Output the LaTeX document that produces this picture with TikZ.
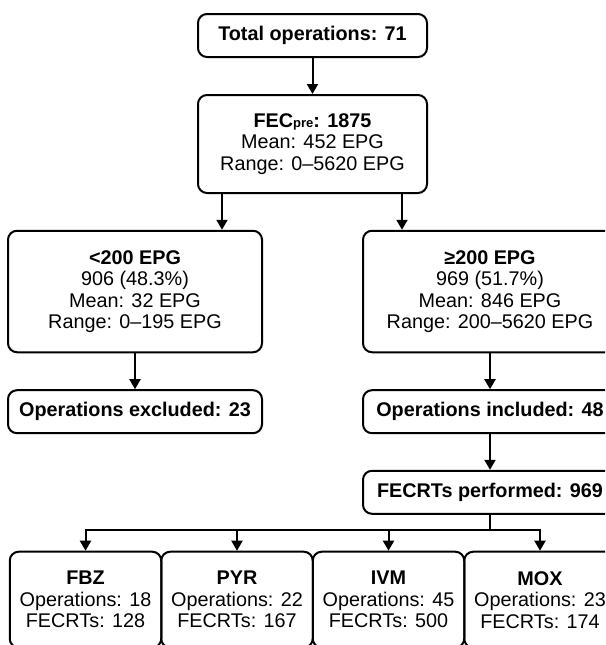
\documentclass[tikz,border=0pt]{standalone}
\usepackage{fontspec}
\setmainfont{Liberation Sans}
\usetikzlibrary{arrows.meta}
\begin{document}
\begin{tikzpicture}[x=1pt,y=-1pt,
  box/.style={draw=black, line width=2pt, rounded corners=9pt, inner sep=0pt,
    align=center, font=\fontsize{19.8}{21.5}\selectfont, text=black},
  arr/.style={line width=2pt, -{Triangle[length=10pt,width=11pt]}},
  ln/.style={line width=2pt, line cap=rect}]
\useasboundingbox (0,0) rectangle (605,645);
\clip (0,0) rectangle (605,645);
\fill[white] (0,0) rectangle (605,645);

\node[box, minimum width=229pt, minimum height=43pt] (tot) at (312.5,35.5) {\bfseries Total operations: 71};
\node[box, minimum width=229pt, minimum height=98pt] (fec) at (312.5,144)
  {\textbf{FEC{\fontsize{13}{13}\selectfont pre}: 1875}\\Mean: 452 EPG\\Range: 0–5620 EPG};
\node[box, minimum width=254pt, minimum height=121.5pt] (low) at (135,291.5)
  {\textbf{<200 EPG}\\906 (48.3\%)\\Mean: 32 EPG\\Range: 0–195 EPG};
\node[box, minimum width=254pt, minimum height=121.5pt] (high) at (490,291.5)
  {\textbf{≥200 EPG}\\969 (51.7\%)\\Mean: 846 EPG\\Range: 200–5620 EPG};
\node[box, minimum width=254pt, minimum height=43pt] (excl) at (135,411.7) {\bfseries Operations excluded: 23};
\node[box, minimum width=254pt, minimum height=43pt] (incl) at (490,411.7) {\bfseries Operations included: 48};
\node[box, minimum width=254pt, minimum height=43pt] (fecrt) at (490,492.3) {\bfseries FECRTs performed: 969};

\node[box, minimum width=151.5pt, minimum height=96pt] (fbz) at (85.5,599.7) {\textbf{FBZ}\\Operations: 18\\FECRTs: 128};
\node[box, minimum width=151.5pt, minimum height=96pt] (pyr) at (237,599.7) {\textbf{PYR}\\Operations: 22\\FECRTs: 167};
\node[box, minimum width=151.5pt, minimum height=96pt] (ivm) at (388.5,599.7) {\textbf{IVM}\\Operations: 45\\FECRTs: 500};
\node[box, minimum width=151.5pt, minimum height=96pt] (mox) at (540,599.7) {\textbf{MOX}\\Operations: 23\\FECRTs: 174};

\coordinate (cL) at (222,0);
\coordinate (cR) at (402,0);
\coordinate (bus) at (0,530);

\draw[arr] (tot) -- (fec);
\draw[arr] (fec.south -| cL) -- (low.north -| cL);
\draw[arr] (fec.south -| cR) -- (high.north -| cR);
\draw[arr] (low) -- (excl);
\draw[arr] (high) -- (incl);
\draw[arr] (incl) -- (fecrt);
\draw[ln] (fecrt.south) -- (fecrt.south |- bus);
\draw[ln] (fbz.north |- bus) -- (mox.north |- bus);
\foreach \n in {fbz,pyr,ivm,mox} \draw[arr] (\n.north |- bus) -- (\n.north);
\end{tikzpicture}
\end{document}
